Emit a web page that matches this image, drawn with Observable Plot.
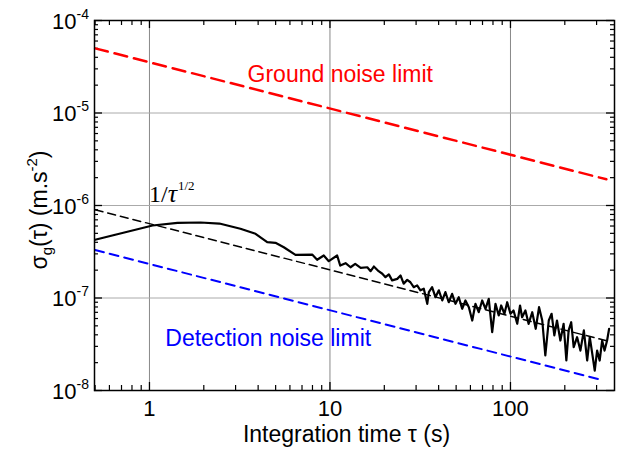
<!DOCTYPE html>
<html><head><meta charset="utf-8">
<script src="https://cdn.jsdelivr.net/npm/d3@7"></script>
<script src="https://cdn.jsdelivr.net/npm/@observablehq/plot@0.6"></script>
<style>body{margin:0;background:#fff} svg{display:block}</style>
</head><body><div id="chart"></div>
<script>
// Measured Allan deviation (integration time in s, sigma in m.s^-2)
const tau = [0.5, 1.04, 1.43, 1.92, 2.44, 3.19, 3.87, 4.49, 4.99, 5.55, 6.44, 7.97, 8.49, 9.24, 9.85, 10.96, 11.4, 12.2, 13.0, 13.8, 14.8, 16.1, 16.8, 17.5, 18.6, 19.5, 20.3, 21.2, 22.1, 23.6, 24.6, 25.6, 26.8, 27.9, 29.1, 30.4, 31.7, 33.1, 34.6, 35.3, 36.8, 38.4, 40.1, 41.9, 43.6, 45.5, 47.5, 49.6, 51.7, 54.0, 56.3, 58.8, 61.4, 64.0, 66.7, 69.7, 72.7, 75.8, 79.2, 82.6, 86.1, 88.8, 92.6, 95.9, 100, 104, 109, 113, 116, 121, 126, 132, 138, 144, 150, 156, 163, 169, 175, 181, 189, 197, 204, 210, 217, 224, 234, 244, 255, 266, 275, 284, 293, 302, 312, 322, 332, 343, 352];
const sigma = [4.26e-7, 6.08e-7, 6.50e-7, 6.55e-7, 6.38e-7, 5.60e-7, 4.94e-7, 4.01e-7, 3.95e-7, 3.54e-7, 2.93e-7, 2.95e-7, 2.59e-7, 2.88e-7, 2.50e-7, 2.88e-7, 2.24e-7, 2.38e-7, 2.15e-7, 2.34e-7, 2.12e-7, 2.15e-7, 1.95e-7, 2.19e-7, 1.95e-7, 1.83e-7, 1.68e-7, 1.80e-7, 1.55e-7, 1.61e-7, 1.75e-7, 1.43e-7, 1.57e-7, 1.48e-7, 1.31e-7, 1.37e-7, 1.21e-7, 1.26e-7, 8.65e-8, 1.16e-7, 1.31e-7, 1.02e-7, 1.21e-7, 9.40e-8, 1.16e-7, 9.0e-8, 1.11e-7, 8.65e-8, 1.02e-7, 7.64e-8, 9.40e-8, 7.96e-8, 5.71e-8, 8.65e-8, 7.02e-8, 9.40e-8, 7.64e-8, 9.80e-8, 4.27e-8, 8.65e-8, 6.47e-8, 8.30e-8, 6.75e-8, 9.0e-8, 6.75e-8, 7.33e-8, 5.26e-8, 8.30e-8, 6.20e-8, 7.33e-8, 5.26e-8, 7.02e-8, 4.65e-8, 7.96e-8, 5.71e-8, 2.39e-8, 5.71e-8, 6.75e-8, 3.94e-8, 5.71e-8, 3.47e-8, 5.26e-8, 2.11e-8, 4.46e-8, 5.47e-8, 2.94e-8, 3.77e-8, 2.70e-8, 4.46e-8, 2.11e-8, 3.77e-8, 2.49e-8, 1.64e-8, 2.70e-8, 2.11e-8, 3.47e-8, 2.70e-8, 3.47e-8, 4.65e-8];

// Reference lines (end points)
const groundTau = [0.5, 340];
const groundSigma = [5e-5, 1.92e-6];
const fitTau = [0.5, 350];
const fitSigma = [9e-7, 3.4e-8];
const detTau = [0.5, 311];
const detSigma = [3.3e-7, 1.32e-8];

// Ticks and labels
const xTicks = [1, 10, 100];
const xTickLabels = ["1", "10", "100"];
const yTicks = [1e-8, 1e-7, 1e-6, 1e-5, 1e-4];
const yTickExp = ["-8", "-7", "-6", "-5", "-4"];
const xTitle = "Integration time τ (s)";
const groundLabel = "Ground noise limit";
const groundLabelPos = [11.4, 2.59e-5];
const detLabel = "Detection noise limit";
const detLabelPos = [4.55, 3.65e-8];
const fitLabelPos = [1.0, 1.09e-6];

const xMinor = [];
for (const d of [0.1, 1, 10, 100]) for (let m = 2; m <= 9; m++) { const v = m * d; if (v > 0.496 && v < 377) xMinor.push(v); }
const yMinor = [];
for (const d of [1e-8, 1e-7, 1e-6, 1e-5]) for (let m = 2; m <= 9; m++) yMinor.push(m * d);

const zip = (xs, ys) => xs.map((x, i) => ({x, y: ys[i]}));
const data = zip(tau, sigma);
const ground = zip(groundTau, groundSigma);
const fit = zip(fitTau, fitSigma);
const det = zip(detTau, detSigma);

const W = 618, H = 452, mL = 94, mT = 20, mR = 4, mB = 62;
const plotW = W - mL - mR, plotH = H - mT - mB;
const F = "'Liberation Sans', Arial, sans-serif";

const chart = Plot.plot({
  width: W, height: H,
  marginLeft: mL, marginTop: mT, marginRight: mR, marginBottom: mB,
  style: {fontFamily: F, background: "white", color: "black"},
  x: {type: "log", domain: [0.496, 377], axis: null},
  y: {type: "log", domain: [1e-8, 1e-4], axis: null},
  marks: [
    Plot.ruleX(xTicks, {x: d => d, stroke: "#888", strokeWidth: 1}),
    Plot.ruleY(yTicks.slice(1, -1), {y: d => d, stroke: "#aaa", strokeWidth: 1}),
    // inward ticks on all four sides
    Plot.tickX(xTicks, {x: d => d, insetTop: plotH - 8, stroke: "black", strokeWidth: 1.3}),
    Plot.tickX(xTicks, {x: d => d, insetBottom: plotH - 8, stroke: "black", strokeWidth: 1.3}),
    Plot.tickX(xMinor, {x: d => d, insetTop: plotH - 5, stroke: "black", strokeWidth: 1.2}),
    Plot.tickX(xMinor, {x: d => d, insetBottom: plotH - 5, stroke: "black", strokeWidth: 1.2}),
    Plot.tickY(yTicks, {y: d => d, insetRight: plotW - 8, stroke: "black", strokeWidth: 1.3}),
    Plot.tickY(yTicks, {y: d => d, insetLeft: plotW - 8, stroke: "black", strokeWidth: 1.3}),
    Plot.tickY(yMinor, {y: d => d, insetRight: plotW - 4, stroke: "black", strokeWidth: 1.2}),
    Plot.tickY(yMinor, {y: d => d, insetLeft: plotW - 4, stroke: "black", strokeWidth: 1.2}),
    // lines
    Plot.line(ground, {x: "x", y: "y", stroke: "#ff0000", strokeWidth: 2.5, strokeDasharray: "13,7"}),
    Plot.line(det, {x: "x", y: "y", stroke: "#0000ff", strokeWidth: 2, strokeDasharray: "9,6"}),
    Plot.line(fit, {x: "x", y: "y", stroke: "black", strokeWidth: 1.5, strokeDasharray: "8,5"}),
    Plot.line(data, {x: "x", y: "y", stroke: "black", strokeWidth: 2.2, strokeLinejoin: "round"}),
    Plot.frame({stroke: "black", strokeWidth: 1.5}),
    // annotations
    Plot.text([groundLabel], {x: groundLabelPos[0], y: groundLabelPos[1], text: d => d, fill: "#ff0000", fontSize: 23, lineAnchor: "middle"}),
    Plot.text([detLabel], {x: detLabelPos[0], y: detLabelPos[1], text: d => d, fill: "#0000ff", fontSize: 23, lineAnchor: "middle"}),
    // tick labels
    Plot.text(xTicks, {x: d => d, frameAnchor: "bottom", dy: 10, text: (d, i) => xTickLabels[i], fontSize: 22, lineAnchor: "top", fill: "black"}),
    Plot.text(yTicks, {y: d => d, frameAnchor: "left", dx: -18, dy: 1, text: () => "10", fontSize: 22, textAnchor: "end", lineAnchor: "middle", fill: "black"}),
    Plot.text(yTicks, {y: d => d, frameAnchor: "left", dx: -18, dy: -6, text: (d, i) => yTickExp[i], fontSize: 14, textAnchor: "start", lineAnchor: "middle", fill: "black"}),
    Plot.text([xTitle], {frameAnchor: "bottom", dx: -8, dy: 44, text: d => d, fontSize: 23, lineAnchor: "middle", fill: "black"})
  ]
});

const svg = d3.select(chart);
const sx = chart.scale("x"), sy = chart.scale("y");
// 1/tau^(1/2) label
const t = svg.append("text")
  .attr("x", sx.apply(fitLabelPos[0])).attr("y", sy.apply(fitLabelPos[1]))
  .attr("text-anchor", "start")
  .attr("font-family", "'Liberation Serif', 'Times New Roman', serif")
  .attr("font-size", 24).attr("fill", "black");
t.append("tspan").text("1/");
t.append("tspan").attr("font-style", "italic").attr("font-size", 26).text("τ");
t.append("tspan").attr("font-size", 13).attr("dx", 1).attr("dy", -12).text("1/2");

// y-axis title
const yt = svg.append("text")
  .attr("transform", "translate(47,210) rotate(-90)")
  .attr("text-anchor", "middle").attr("font-family", F)
  .attr("font-size", 23).attr("fill", "black");
yt.append("tspan").text("σ");
yt.append("tspan").attr("font-size", 15).attr("dy", 5).text("g");
yt.append("tspan").attr("dy", -5).text("(τ) (m.s");
yt.append("tspan").attr("font-size", 15).attr("dy", -10).text("-2");
yt.append("tspan").attr("dy", 10).text(")");

document.getElementById("chart").appendChild(chart);
</script>
</body></html>
